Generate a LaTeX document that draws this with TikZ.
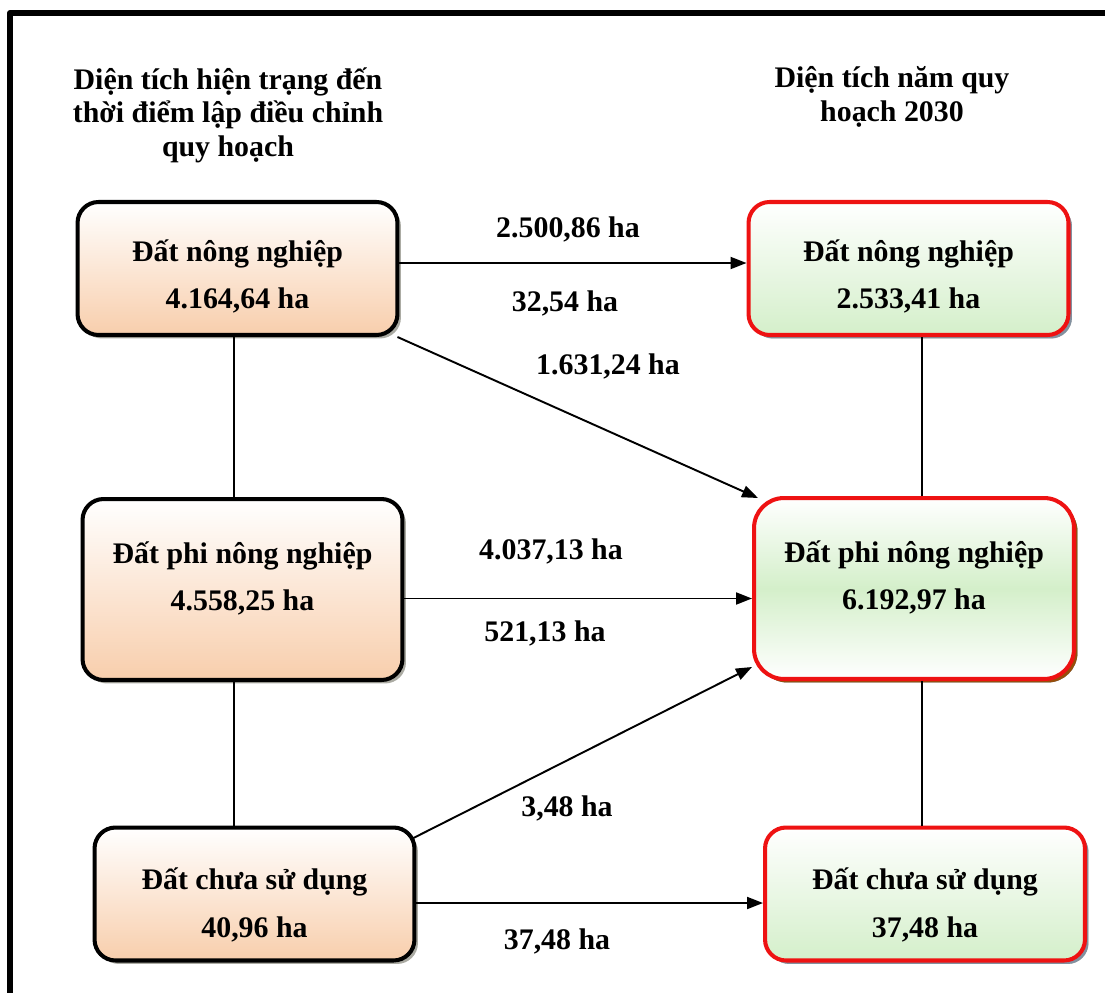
\documentclass[tikz,border=0pt]{standalone}
\usepackage{fontspec}
\setmainfont{Liberation Serif}
\usetikzlibrary{arrows.meta,shadows}
\definecolor{mauda}{RGB}{248,206,172}
\definecolor{mauxanh}{RGB}{212,239,202}
\definecolor{viendo}{RGB}{238,18,18}
\definecolor{bongxam}{RGB}{150,150,140}
\definecolor{bongxanh}{RGB}{120,138,160}
\definecolor{bongnau}{RGB}{150,78,10}
\begin{document}
\begin{tikzpicture}[x=0.02cm,y=-0.02cm,>={Triangle[length=0.32cm,width=0.24cm]},line join=round,
	font=\fontsize{17}{19}\selectfont\bfseries,
	hientrang/.style={draw=black,line width=2.3pt,rounded corners=0.42cm,top color=white,bottom color=mauda,
		align=center,font=\fontsize{17}{27}\selectfont\bfseries,minimum width=6.4cm,minimum height=2.66cm,
		text height=1.62cm,text depth=0cm,
		drop shadow={shadow xshift=0.07cm,shadow yshift=-0.07cm,fill=bongxam,opacity=.8}},
	quyhoach/.style={hientrang,draw=viendo,bottom color=mauxanh,
		drop shadow={shadow xshift=0.07cm,shadow yshift=-0.07cm,fill=bongxanh,opacity=.8}},
	giua/.style={minimum height=3.62cm,text height=1.2cm,text depth=0.36cm},
	duoi/.style={text height=1.72cm},
	luong/.style={->,line width=1.1pt},
	noi/.style={line width=1.1pt}]
	\clip (0,0) rectangle (1105,993);
	\draw[line width=3.4pt] (10,13) rectangle (1200,1100);
	% Tiêu đề hai cột
	\node[align=center] (tdtrai) at (228,115) {Diện tích hiện trạng đến\\thời điểm lập điều chỉnh\\quy hoạch};
	\node[align=center] (tdphai) at (892,97) {Diện tích năm quy\\hoạch 2030};
	% Hiện trạng
	\node[hientrang] (ht1) at (237.5,268.5) {Đất nông nghiệp\\4.164,64 ha};
	\node[hientrang,giua] (ht2) at (242.5,589.5) {Đất phi nông nghiệp\\4.558,25 ha};
	\node[hientrang,duoi] (ht3) at (254.5,894) {Đất chưa sử dụng\\40,96 ha};
	% Quy hoạch 2030
	\node[quyhoach] (qh1) at (908.5,268.5) {Đất nông nghiệp\\2.533,41 ha};
	\node[quyhoach,giua,top color=white,bottom color=white,middle color=mauxanh,
		drop shadow={shadow xshift=0.07cm,shadow yshift=-0.07cm,fill=bongnau,opacity=1},
		rounded corners=0.6cm] (qh2) at (914,588.5) {Đất phi nông nghiệp\\6.192,97 ha};
	\node[quyhoach,duoi] (qh3) at (925,894) {Đất chưa sử dụng\\37,48 ha};
	% Đường nối dọc
	\coordinate (xtrai) at (234,0);
	\coordinate (xphai) at (922,0);
	\draw[noi] (ht1.south -| xtrai) -- (ht2.north -| xtrai);
	\draw[noi] (ht2.south -| xtrai) -- (ht3.north -| xtrai);
	\draw[noi] (qh1.south -| xphai) -- (qh2.north -| xphai);
	\draw[noi] (qh2.south -| xphai) -- (qh3.north -| xphai);
	% Mũi tên chuyển đổi
	\draw[luong] ([yshift=0.11cm]ht1.east) -- ([yshift=0.11cm]qh1.west);
	\draw[luong] ([xshift=-0.04cm]ht1.south east) -- ([xshift=0.12cm,yshift=-0.04cm]qh2.north west);
	\draw[luong] ([yshift=-0.18cm]ht2.east) -- ([yshift=-0.18cm]ht2.east -| qh2.west);
	\draw[luong] ([xshift=-0.08cm,yshift=-0.26cm]ht3.north east) -- ([yshift=0.28cm]qh2.south west);
	\draw[luong] ([yshift=-0.18cm]ht3.east) -- ([yshift=-0.18cm]qh3.west);
	% Nhãn diện tích
	\node (n1) at (568,229) {2.500,86 ha};
	\node (n2) at (565,303) {32,54 ha};
	\node (n3) at (608,366) {1.631,24 ha};
	\node (n4) at (551,551) {4.037,13 ha};
	\node (n5) at (545,633) {521,13 ha};
	\node (n6) at (567,808) {3,48 ha};
	\node (n7) at (557,941) {37,48 ha};
\end{tikzpicture}
\end{document}
